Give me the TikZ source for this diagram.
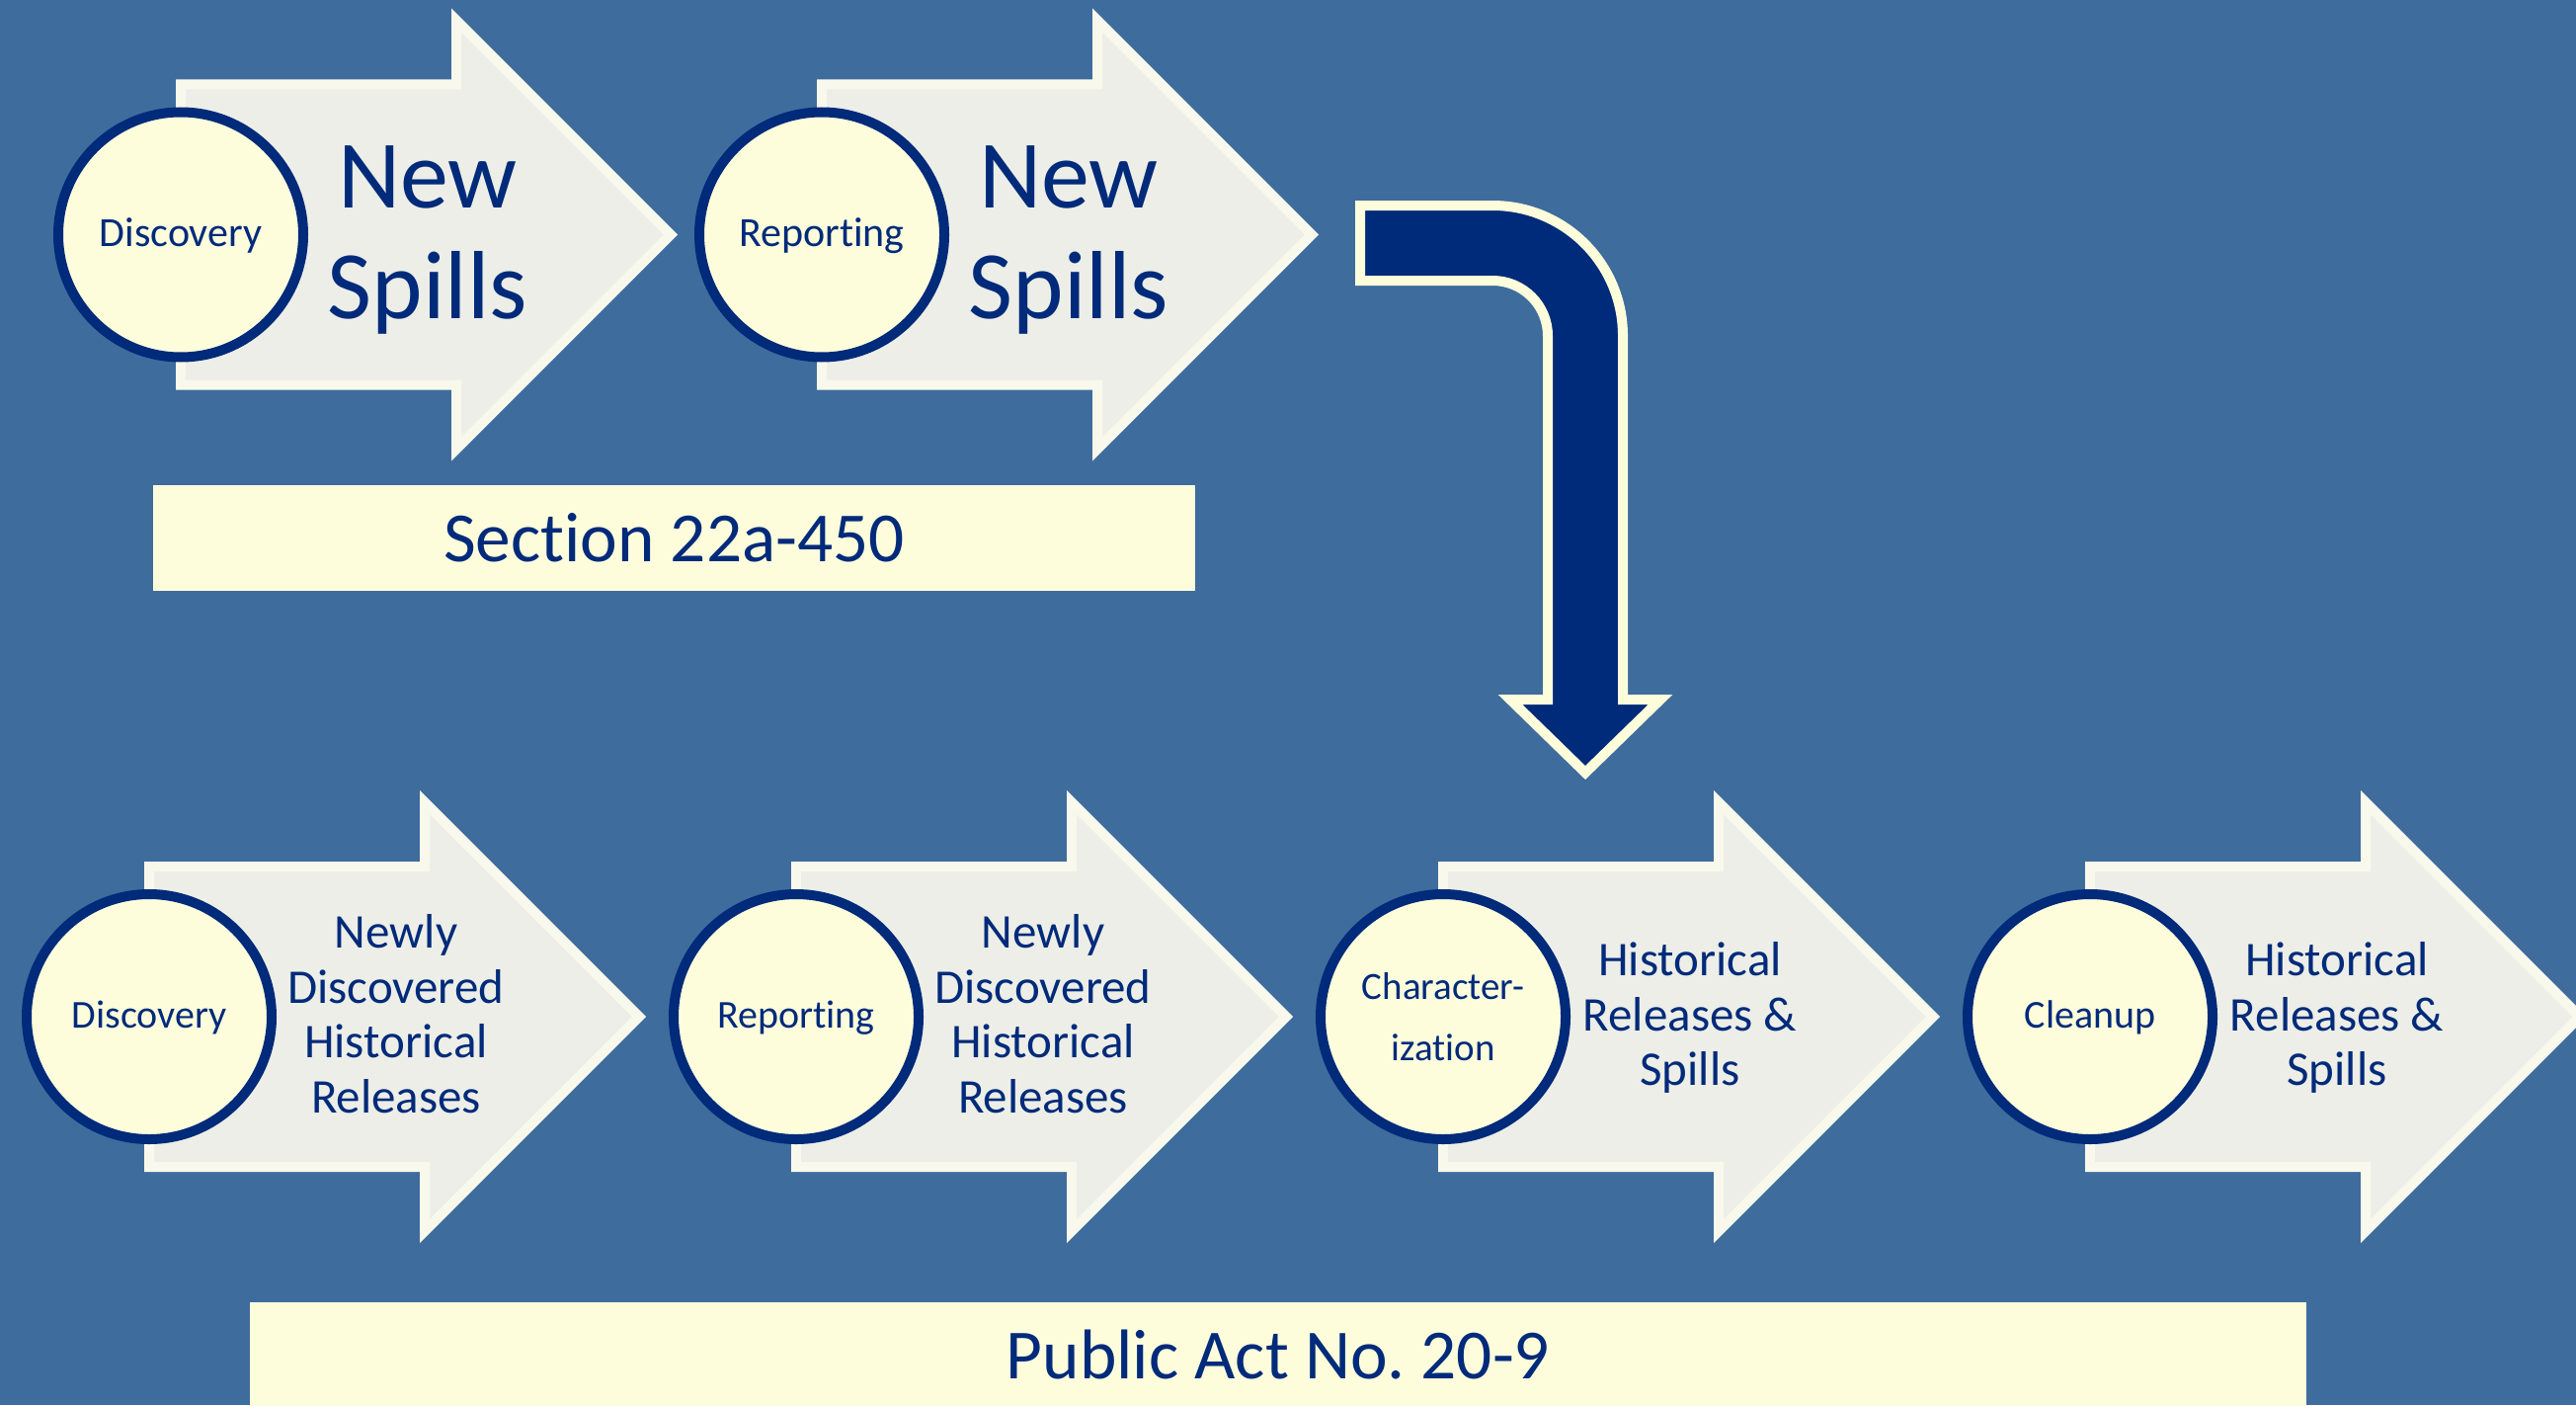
\documentclass[tikz,border=0pt]{standalone}
\usepackage{fontspec}
\setmainfont{Carlito}[Ligatures={NoCommon}]
\frenchspacing
\definecolor{bgblue}{HTML}{3E6C9D}
\definecolor{navy}{HTML}{002A7A}
\definecolor{cream}{HTML}{FDFDDC}
\definecolor{arrowfill}{HTML}{ECEEE7}
\definecolor{arrowline}{HTML}{F8F9EC}
\tikzset{
  chevron/.pic={
    \path[draw=arrowline, fill=arrowfill, line width=3pt, miter limit=10]
      (5,-152) -- (284,-152) -- (284,-217) -- (501,0) -- (284,217)
      -- (284,152) -- (5,152) -- cycle;
  },
  stepcircle/.style={circle, draw=navy, line width=3pt, fill=cream,
    minimum size=74.4pt, inner sep=0pt, text=navy, align=center},
  topcircle/.style={stepcircle, font=\fontsize{12.6pt}{15pt}\selectfont,
    text height=9pt, text depth=2.1pt},
  botcircle/.style={stepcircle, font=\fontsize{12pt}{14pt}\selectfont,
    text height=8.7pt, text depth=2.1pt},
  twolinecircle/.style={stepcircle, font=\fontsize{11.7pt}{18.6pt}\selectfont},
  bigtext/.style={text=navy, align=center, inner sep=0pt,
    font=\fontsize{29.4pt}{33.6pt}\selectfont},
  midtext/.style={text=navy, align=center, inner sep=0pt,
    font=\fontsize{14.7pt}{16.7pt}\selectfont},
  lawbox/.style={fill=cream, inner sep=0pt, text=navy,
    font=\fontsize{21.4pt}{25pt}\selectfont},
  bentarrow/.style={draw=cream, fill=navy, line width=3pt, miter limit=10},
}
\begin{document}
\begin{tikzpicture}[x=0.3pt, y=-0.3pt]
\clip (0,0) rectangle (2608,1422);
\fill[bgblue] (0,0) rectangle (2608,1422);

% ---- top row ----
\pic (ta1) at (178,237.5) {chevron};
\node[topcircle] (tdisc) at (183,237.5) {Discovery};
\node[bigtext] (tnew1) at (433,243) {New\\Spills};

\pic (ta2) at (827,237.5) {chevron};
\node[topcircle] (trep) at (832,237.5) {Reporting};
\node[bigtext] (tnew2) at (1082,243) {New\\Spills};

\node[lawbox, minimum width=316.5pt, minimum height=32.1pt] (sect) at (682.5,544.5) {Section 22a-450};

% ---- bent arrow ----
\path[bentarrow] (1377,208) -- (1511,208)
  .. controls (1584,208) and (1643,267) .. (1643,340)
  -- (1643,708) -- (1681,708) -- (1605,782) -- (1529,708) -- (1567,708)
  -- (1567,340)
  .. controls (1567,309) and (1542,284) .. (1511,284)
  -- (1377,284) -- cycle;

% ---- bottom row ----
\pic (ba1) at (146,1029) {chevron};
\node[botcircle] (bdisc) at (151,1029) {Discovery};
\node[midtext] (bnew1) at (401,1026) {Newly\\Discovered\\Historical\\Releases};

\pic (ba2) at (801,1029) {chevron};
\node[botcircle] (brep) at (806,1029) {Reporting};
\node[midtext] (bnew2) at (1056,1026) {Newly\\Discovered\\Historical\\Releases};

\pic (ba3) at (1456,1029) {chevron};
\node[twolinecircle] (bchar) at (1461,1029) {Character-\\ization};
\node[midtext] (bhist1) at (1711,1030) {Historical\\Releases \&\\Spills};

\pic (ba4) at (2111,1029) {chevron};
\node[botcircle] (bclean) at (2116,1029) {Cleanup};
\node[midtext] (bhist2) at (2366,1030) {Historical\\Releases \&\\Spills};

\node[lawbox, minimum width=624.6pt, minimum height=31.8pt] (pact) at (1294,1371) {Public Act No. 20-9};
\end{tikzpicture}
\end{document}
